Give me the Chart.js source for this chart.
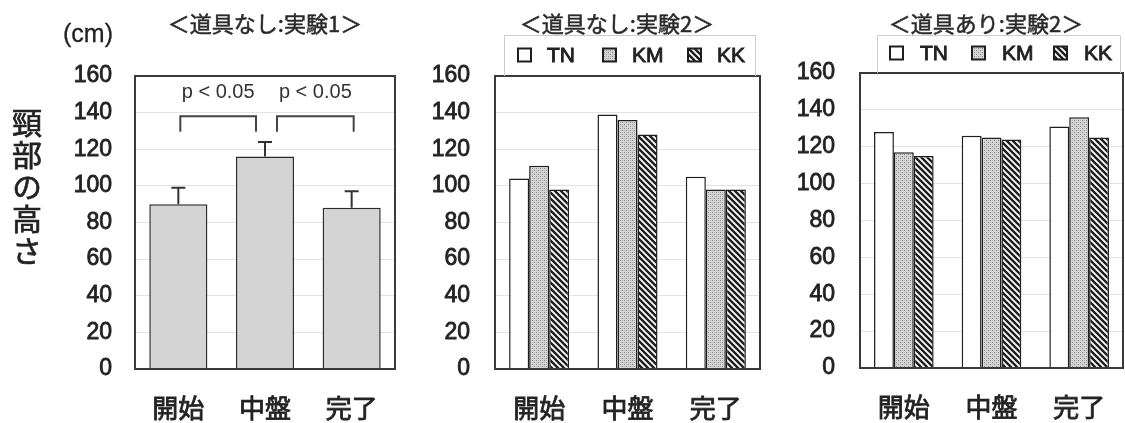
<!DOCTYPE html>
<html><head><meta charset="utf-8">
<script src="https://cdn.jsdelivr.net/npm/chart.js@4"></script>
<style>
html,body{margin:0;padding:0;background:#fff;}
#root{position:relative;width:1125px;height:423px;overflow:hidden;background:#fff;}
.box{position:absolute;top:0;height:423px;}
.t{position:absolute;color:#222;white-space:nowrap;line-height:1;}
.ttl{font-family:"Noto Sans CJK JP";font-size:22px;width:300px;text-align:center;top:11px;font-weight:400;color:#2a2a2a;-webkit-text-stroke:0.5px #2a2a2a;}
</style></head><body>
<div id="root">
  <div class="box" style="left:0;width:400px"><canvas id="c1" width="400" height="423"></canvas></div>
  <div class="box" style="left:400px;width:370px"><canvas id="c2" width="370" height="423"></canvas></div>
  <div class="box" style="left:770px;width:355px"><canvas id="c3" width="355" height="423"></canvas></div>
  <div class="t" id="unit" style="left:63px;top:21px;font-family:'Liberation Sans';font-size:25px;-webkit-text-stroke:0.3px #222;"></div>
  <div class="t" id="ytitle" style="left:12px;top:108px;font-family:'Noto Sans CJK JP';font-size:30px;writing-mode:vertical-rl;letter-spacing:2px;font-weight:400;-webkit-text-stroke:0.7px #222;"></div>
  <div class="t ttl" id="t1" style="left:115px;"></div>
  <div class="t ttl" id="t2" style="left:467px;"></div>
  <div class="t ttl" id="t3" style="left:836px;"></div>
</div>
<script>
// ---- data ----
const categories = ['開始', '中盤', '完了'];
const seriesNames = ['TN', 'KM', 'KK'];
const exp1Mean = [90, 116, 88];
const exp1SD = [9, 8, 9];
const noToolTN = [104, 139, 105];
const noToolKM = [111, 136, 98];
const noToolKK = [98, 128, 98];
const toolTN = [128, 126, 131];
const toolKM = [117, 125, 136];
const toolKK = [115, 124, 125];
const yMin = 0, yMax = 160, yStep = 20;
const pLabels = ['p < 0.05', 'p < 0.05'];
const sigPairs = [[0, 1], [1, 2]];
const bracketTop = 138, bracketLeg = 129.5, pLabelValue = 151;
const panelTitles = ['＜道具なし:実験1＞', '＜道具なし:実験2＞', '＜道具あり:実験2＞'];
const unitLabel = '(cm)';
const yTitle = '頸部の高さ';

document.getElementById('unit').textContent = unitLabel;
document.getElementById('ytitle').textContent = yTitle;
['t1','t2','t3'].forEach((id, i) => document.getElementById(id).textContent = panelTitles[i]);

// ---- patterns ----
function dotPattern() {
  const c = document.createElement('canvas'); c.width = 4; c.height = 4;
  const g = c.getContext('2d');
  g.fillStyle = '#d6d6d6'; g.fillRect(0, 0, 4, 4);
  g.fillStyle = '#8a8a8a';
  g.fillRect(0, 0, 1, 1); g.fillRect(2, 2, 1, 1);
  g.fillStyle = '#b0b0b0';
  g.fillRect(2, 0, 1, 1); g.fillRect(0, 2, 1, 1);
  return g.createPattern(c, 'repeat');
}
function hatchPattern() {
  const s = 6;
  const c = document.createElement('canvas'); c.width = s; c.height = s;
  const g = c.getContext('2d');
  g.fillStyle = '#ffffff'; g.fillRect(0, 0, s, s);
  g.strokeStyle = '#1e1e1e'; g.lineWidth = 2.4;
  g.beginPath();
  g.moveTo(-1, -1); g.lineTo(s + 1, s + 1);
  g.moveTo(-1, s - 1); g.lineTo(1, s + 1);
  g.moveTo(s - 1, -1); g.lineTo(s + 1, 1);
  g.stroke();
  return g.createPattern(c, 'repeat');
}
const fills = ['#ffffff', dotPattern(), hatchPattern()];

// ---- plugins ----
const frame = {
  id: 'frame',
  afterDatasetsDraw(chart) {
    const {left, top, right, bottom} = chart.chartArea;
    const ctx = chart.ctx;
    ctx.save();
    ctx.strokeStyle = '#3a3a3a'; ctx.lineWidth = 2;
    ctx.strokeRect(left, top, right - left, bottom - top);
    ctx.restore();
  }
};
const legendBox = {
  id: 'legendBox',
  afterDraw(chart, args, o) {
    if (!o || o.x0 === undefined) return;
    const {left, right, top} = chart.chartArea;
    const ctx = chart.ctx;
    ctx.save();
    const fl = Math.round(left + o.frameL) + 0.5, fr = Math.round(right - o.frameR) + 0.5, ft = Math.round(top + o.frameTop) + 0.5;
    ctx.strokeStyle = '#cccccc'; ctx.lineWidth = 1;
    ctx.beginPath();
    ctx.moveTo(fl, top); ctx.lineTo(fl, ft); ctx.lineTo(fr, ft); ctx.lineTo(fr, top);
    ctx.stroke();
    const cy = top + o.dy;
    ctx.font = '21px "Liberation Sans"';
    ctx.textBaseline = 'middle'; ctx.textAlign = 'left';
    chart.data.datasets.forEach((ds, i) => {
      const x = Math.round(left + o.x0 + i * o.step);
      ctx.fillStyle = ds.backgroundColor;
      ctx.fillRect(x, cy - 6.5, 13, 13);
      ctx.strokeStyle = '#1e1e1e'; ctx.lineWidth = 2;
      ctx.strokeRect(x, cy - 6.5, 13, 13);
      ctx.fillStyle = '#222';
      ctx.strokeStyle = '#222'; ctx.lineWidth = 0.9;
      ctx.fillText(ds.label, x + o.textGap, cy + 1);
      ctx.strokeText(ds.label, x + o.textGap, cy + 1);
    });
    ctx.restore();
  }
};
const errorBars = {
  id: 'errorBars',
  afterDatasetsDraw(chart) {
    const meta = chart.getDatasetMeta(0), y = chart.scales.y, ctx = chart.ctx;
    ctx.save();
    ctx.strokeStyle = '#333'; ctx.lineWidth = 2;
    meta.data.forEach((bar, i) => {
      const top = y.getPixelForValue(exp1Mean[i] + exp1SD[i]);
      ctx.beginPath();
      ctx.moveTo(bar.x, bar.y); ctx.lineTo(bar.x, top);
      ctx.moveTo(bar.x - 7, top); ctx.lineTo(bar.x + 7, top);
      ctx.stroke();
    });
    ctx.restore();
  }
};
const brackets = {
  id: 'brackets',
  afterDatasetsDraw(chart) {
    const x = chart.scales.x, y = chart.scales.y, ctx = chart.ctx;
    const offs = [[2, -9], [12, 2]];
    ctx.save();
    ctx.strokeStyle = '#444'; ctx.lineWidth = 2;
    ctx.fillStyle = '#333';
    ctx.font = '20px "Liberation Sans"';
    ctx.textAlign = 'center'; ctx.textBaseline = 'middle';
    sigPairs.forEach(([a, b], i) => {
      const x1 = x.getPixelForValue(a) + offs[i][0];
      const x2 = x.getPixelForValue(b) + offs[i][1];
      const yt = y.getPixelForValue(bracketTop), yl = y.getPixelForValue(bracketLeg);
      ctx.beginPath();
      ctx.moveTo(x1, yl); ctx.lineTo(x1, yt); ctx.lineTo(x2, yt); ctx.lineTo(x2, yl);
      ctx.stroke();
      ctx.fillText(pLabels[i], (x1 + x2) / 2, y.getPixelForValue(pLabelValue));
    });
    ctx.restore();
  }
};

function scalesFor(yWidth, yPad, xHeight) {
  return {
    x: {
      afterFit(s) { s.height = xHeight; },
      grid: {display: false},
      border: {display: false},
      ticks: {color: '#222', padding: 16, textStrokeColor: '#222', textStrokeWidth: 0.8,
              font: {family: '"Noto Sans CJK JP"', size: 26, weight: '400'}}
    },
    y: {
      min: yMin, max: yMax,
      afterFit(s) { s.width = yWidth; },
      grid: {color: '#e3e3e3', lineWidth: 1, drawTicks: false},
      border: {display: false},
      ticks: {stepSize: yStep, autoSkip: false, color: '#222', padding: yPad,
              textStrokeColor: '#222', textStrokeWidth: 0.8,
              font: {family: '"Liberation Sans"', size: 23}}
    }
  };
}

Chart.defaults.animation = false;

new Chart(document.getElementById('c1'), {
  type: 'bar',
  data: {
    labels: categories,
    datasets: [{
      data: exp1Mean,
      backgroundColor: '#d4d4d4', borderColor: '#2a2a2a', borderWidth: 1.5,
      categoryPercentage: 0.67, barPercentage: 1
    }]
  },
  options: {
    responsive: false,
    layout: {padding: {top: 76, right: 5, bottom: 0, left: 0}},
    plugins: {legend: {display: false}, tooltip: {enabled: false}},
    scales: scalesFor(135, 23, 54)
  },
  plugins: [errorBars, brackets, frame]
});

function groupChart(id, tn, km, kk, yWidth, padTop, padRight, xHeight, lg) {
  const vals = [tn, km, kk];
  new Chart(document.getElementById(id), {
    type: 'bar',
    data: {
      labels: categories,
      datasets: seriesNames.map((n, i) => ({
        label: n, data: vals[i],
        backgroundColor: fills[i], borderColor: '#1e1e1e', borderWidth: 1.5,
        categoryPercentage: 0.68, barPercentage: 1
      }))
    },
    options: {
      responsive: false,
      layout: {padding: {top: padTop, right: padRight, bottom: 0, left: 0}},
      plugins: {
        tooltip: {enabled: false},
        legend: {display: false},
        legendBox: lg
      },
      scales: scalesFor(yWidth, 25, xHeight)
    },
    plugins: [frame, legendBox]
  });
}
groupChart('c2', noToolTN, noToolKM, noToolKK, 95, 76, 10, 54,
  {x0: 23, step: 85, textGap: 29, dy: -21, frameL: 9, frameR: 5, frameTop: -41});
groupChart('c3', toolTN, toolKM, toolKK, 90, 73, 2, 55,
  {x0: 30, step: 82, textGap: 30, dy: -20, frameL: 17, frameR: 3, frameTop: -38});
</script>
</body></html>
